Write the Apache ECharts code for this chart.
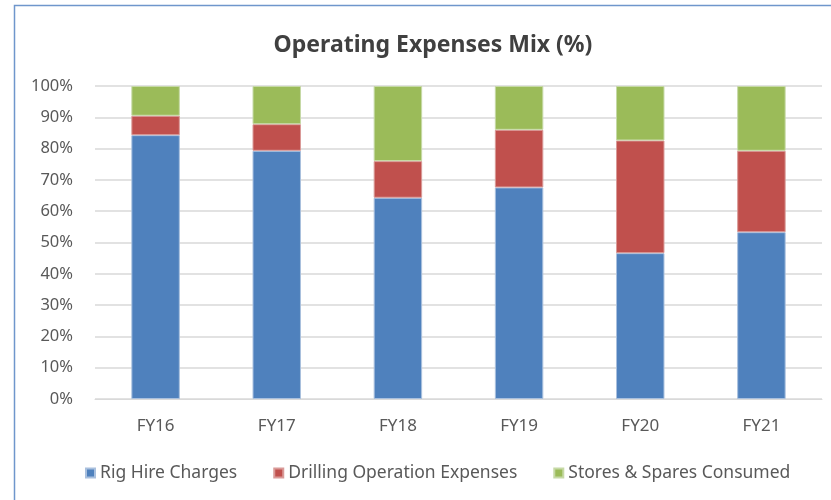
<!DOCTYPE html>
<html>
<head>
<meta charset="utf-8">
<script src="https://cdn.jsdelivr.net/npm/echarts@6/dist/echarts.min.js"></script>
<style>html,body{margin:0;padding:0;background:#fff}#c{width:831px;height:500px}</style>
</head>
<body>
<div id="c"></div>
<script>
const categories = ['FY16', 'FY17', 'FY18', 'FY19', 'FY20', 'FY21'];
const rigHire = [84.3, 79.3, 64.3, 67.6, 46.6, 53.3];
const drillingOps = [6.2, 8.5, 11.7, 18.4, 36.0, 26.0];
const storesSpares = [9.5, 12.2, 24.0, 14.0, 17.4, 20.7];
const seriesNames = ['Rig Hire Charges', 'Drilling Operation Expenses', 'Stores & Spares Consumed'];
const colors = ['#4F81BD', '#C0504D', '#9BBB59'];
const borders = ['#a9c0de', '#d99a98', '#c6d9a6'];

const chart = echarts.init(document.getElementById('c'), null, {renderer: 'canvas'});
const font = "'Noto Sans', sans-serif";
const dataSets = [rigHire, drillingOps, storesSpares];
chart.setOption({
  animation: false,
  backgroundColor: '#ffffff',
  title: {
    text: 'Operating Expenses Mix (%)',
    left: 428, top: 29, textAlign: 'center',
    textStyle: {fontFamily: font, fontSize: 23, fontWeight: 'bold', color: '#404040'}
  },
  graphic: [{
    type: 'rect', shape: {x: 14.5, y: 5.5, width: 900, height: 600},
    style: {fill: 'none', stroke: '#6f96cc', lineWidth: 1.5}, silent: true
  }],
  legend: {
    data: seriesNames,
    top: 459, left: 80,
    icon: 'rect', itemWidth: 9, itemHeight: 9, itemGap: 36, itemTextGap: 7,
    textStyle: {fontFamily: font, fontSize: 17.5, color: '#595959'}
  },
  grid: {left: 95, right: 9, top: 86, bottom: 101, containLabel: false},
  xAxis: {
    type: 'category', data: categories,
    axisLine: {show: true, lineStyle: {color: '#d9d9d9'}},
    axisTick: {show: false},
    axisLabel: {fontFamily: font, fontSize: 17, color: '#595959', margin: 19}
  },
  yAxis: {
    type: 'value', min: 0, max: 100, interval: 10,
    axisLine: {show: false}, axisTick: {show: false},
    splitLine: {lineStyle: {color: '#d9d9d9', width: 1.5}},
    axisLabel: {fontFamily: font, fontSize: 16.5, color: '#595959', margin: 22, formatter: v => v + '%'}
  },
  series: seriesNames.map((n, i) => ({
    name: n, type: 'bar', stack: 'total', data: dataSets[i],
    barWidth: '40%',
    itemStyle: {color: colors[i], borderColor: borders[i], borderWidth: 1}
  }))
});
</script>
</body>
</html>
